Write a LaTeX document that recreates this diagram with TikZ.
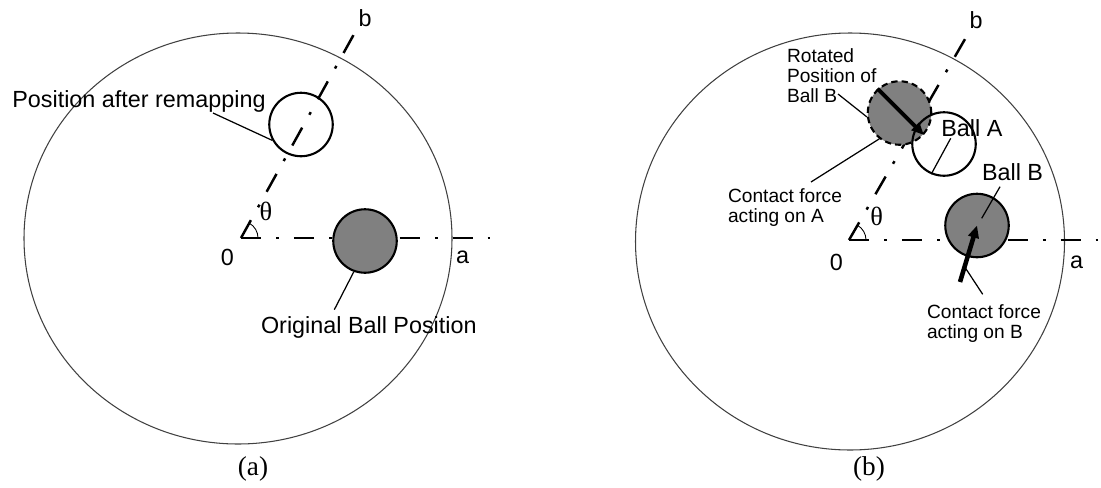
\documentclass[tikz,border=0pt]{standalone}
\usepackage{fontspec}
\setmainfont{Liberation Sans}
\newfontfamily\seriffont{Liberation Serif}
\usetikzlibrary{arrows.meta,positioning}

\begin{document}
\begin{tikzpicture}[
    x=0.02cm, y=-0.02cm,
    rim/.style={line width=0.6pt, black!75},
    axis/.style={line width=1.4pt, dash pattern=on 11.6pt off 8.4pt on 1.7pt off 8.4pt},
    ball/.style={circle, draw, line width=1.2pt, inner sep=0pt, minimum size=1.27cm},
    leader/.style={line width=0.7pt},
    force/.style={line width=2.6pt, -{Triangle[length=7pt,width=6pt]}},
    bigtxt/.style={font=\fontsize{13.3}{16}\selectfont, inner sep=0pt},
    smalltxt/.style={font=\fontsize{10.9}{11.4}\selectfont, inner sep=0pt, align=left},
    greek/.style={font=\seriffont\fontsize{15}{16}\selectfont, inner sep=0pt},
    caption/.style={font=\seriffont\fontsize{15.5}{17}\selectfont, inner sep=0pt}
]
\useasboundingbox (0,0) rectangle (1101,487);

% ── Panel (a): remapping ──
\draw[rim] (238,238.5) ellipse [x radius=214, y radius=205.5];
\coordinate (Oa) at (241,238);
\coordinate (aEndA) at (490,238);
\path (Oa) ++(-61:234) coordinate (bEndA);
\draw[axis] (Oa) -- (aEndA);
\draw[axis] (Oa) -- (bEndA);
\draw[line width=0.5pt] (Oa) ++(17,0) arc[start angle=0, end angle=-61, radius=17];

\node[ball] (remap) at (301,124.5) {};
\node[ball, fill=gray] (orig) at (365,241) {};

\node[bigtxt, anchor=base west] (remapTxt) at (12,107.3) {Position after remapping};
\node[bigtxt, anchor=base west] (origTxt) at (260.7,333) {Original Ball Position};
\coordinate (remapTip) at (213,113);
\coordinate (origTip) at (334.3,309.7);
\draw[leader] (remapTip) -- (remap.209);
\draw[leader] (origTip) -- (orig.250);

\node[bigtxt] (zeroA) at (227.3,257.7) {0};
\node[bigtxt] (aA) at (462.7,257) {a};
\node[bigtxt] (bA) at (365,18.3) {b};
\node[greek] (thA) at (266,211.7) {θ};
\node[caption] (capA) at (253,469) {(a)};

% ── Panel (b): contact ──
\draw[rim] (850,241.5) ellipse [x radius=214.5, y radius=208.5];
\coordinate (Ob) at (849,240);
\coordinate (aEndB) at (1098,240);
\path (Ob) ++(-60:236) coordinate (bEndB);
\draw[axis] (Ob) -- (aEndB);
\draw[axis] (Ob) -- (bEndB);
\draw[line width=0.5pt] (Ob) ++(17,0) arc[start angle=0, end angle=-60, radius=17];

\node[ball, fill=gray, dash pattern=on 3.6pt off 2.3pt] (rotB) at (899.5,113) {};
\node[ball] (ballA) at (944,144) {};
\node[ball, fill=gray] (ballB) at (977,225.5) {};

% ── Contact forces ──
\draw[force, line width=2.2pt] (rotB.132) -- (rotB.-42);
\coordinate (fBtail) at (960,282);
\draw[force] (fBtail) -- coordinate[pos=0.27] (fBmid) (ballB.center);

% ── Labels (b) ──
\node[smalltxt, anchor=north west] (rotTxt) at (786.7,48) {Rotated\\Position of\\Ball B};
\node[smalltxt, anchor=north west] (cfATxt) at (727.7,188) {Contact force\\acting on A};
\node[smalltxt, anchor=north west] (cfBTxt) at (926.7,304) {Contact force\\acting on B};
\node[bigtxt, anchor=base west] (ballATxt) at (941,136.7) {Ball A};
\node[bigtxt, anchor=base west] (ballBTxt) at (981.7,180) {Ball B};

\coordinate (rotTip) at (838,94);
\coordinate (cfATip) at (811,182);
\coordinate (cfBTip) at (982.7,294.3);
\coordinate (ballATip) at (950.7,138.3);
\coordinate (ballBTip) at (1000,186.7);
\draw[leader] (rotTip) -- (rotB.187);
\draw[leader] (cfATip) -- (rotB.232);
\draw[leader] (cfBTip) -- (fBmid);
\draw[leader] (ballATip) -- (ballA.247);
\draw[leader] (ballBTip) -- ++(-18.3,31.6);

\node[bigtxt] (zeroB) at (836.3,262.7) {0};
\node[bigtxt] (aB) at (1076.7,262) {a};
\node[bigtxt] (bB) at (976,20) {b};
\node[greek] (thB) at (876.7,216) {θ};
\node[caption] (capB) at (869,469) {(b)};

\end{tikzpicture}
\end{document}
